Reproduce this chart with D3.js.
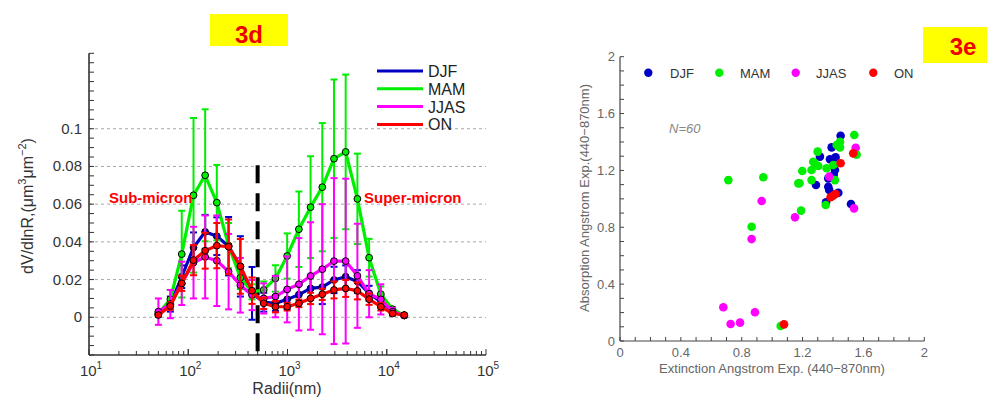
<!DOCTYPE html>
<html><head><meta charset="utf-8">
<script src="https://cdn.jsdelivr.net/npm/d3@7"></script>
<style>body{margin:0;background:#fff;} svg{display:block;font-family:"Liberation Sans",Arial,sans-serif;}</style>
</head><body><svg id="c" width="987" height="397"></svg>
<script>
// ---------- Panel 3d data ----------
const radii = [50,66,86,113,148,194,255,335,439,576,756,992,1302,1708,2241,2940,3857,5061,6641,8713,11432,15000];
const seasons = ["DJF","MAM","JJAS","ON"];
const djf    = [0.0015,0.007,0.0215,0.037,0.0453,0.043,0.0377,0.027,0.0127,0.008,0.0074,0.0095,0.012,0.0153,0.016,0.0198,0.0215,0.019,0.0127,0.0083,0.003,0.001];
const djfErr = [0.001,0.004,0.006,0.008,0.009,0.010,0.0155,0.016,0.014,0.005,0.004,0.005,0.005,0.006,0.009,0.007,0.006,0.006,0.004,0.003,0.001,0.0005];
const mam    = [0.002,0.0095,0.0335,0.0647,0.0753,0.0608,0.038,0.021,0.0135,0.0145,0.0206,0.0325,0.0467,0.0584,0.069,0.0841,0.0877,0.0628,0.0316,0.0123,0.0043,0.001];
const mamErr = [0.001,0.005,0.023,0.041,0.035,0.020,0.012,0.006,0.004,0.0045,0.007,0.012,0.020,0.027,0.034,0.042,0.041,0.024,0.010,0.004,0.001,0.0005];
const jjas    = [0.003,0.007,0.018,0.029,0.032,0.030,0.0242,0.017,0.0118,0.010,0.011,0.0148,0.0175,0.0219,0.0255,0.0298,0.0298,0.022,0.0125,0.0095,0.003,0.001];
const jjasErr = [0.007,0.0075,0.0115,0.019,0.022,0.024,0.020,0.0145,0.008,0.008,0.011,0.0175,0.0245,0.0285,0.0345,0.044,0.0437,0.0276,0.0125,0.008,0.002,0.001];
const on    = [0.0012,0.006,0.018,0.0303,0.0353,0.038,0.0374,0.027,0.0141,0.0074,0.0056,0.0056,0.0074,0.010,0.0122,0.0145,0.0153,0.014,0.0096,0.0056,0.002,0.0012];
const onErr = [0.0005,0.002,0.004,0.008,0.0095,0.012,0.0145,0.0145,0.007,0.003,0.003,0.002,0.002,0.003,0.003,0.0045,0.0045,0.0045,0.003,0.002,0.001,0.0005];
const yTicks3d = [0,0.02,0.04,0.06,0.08,0.1];
const xExps = [1,2,3,4,5];
const cutRadius = 500;

// ---------- Panel 3e data ----------
const djfExt = [1.450,1.391,1.314,1.380,1.417,1.413,1.369,1.288,1.369,1.375,1.435,1.354,1.518,1.405];
const djfAbs = [1.444,1.362,1.297,1.278,1.292,1.203,1.144,1.097,1.085,1.062,1.043,0.976,0.964,1.17];
const mamExt = [1.540,1.446,1.424,1.446,1.299,1.555,1.270,1.303,1.259,1.358,1.402,1.198,1.259,1.413,1.172,0.942,1.190,1.352,0.865,0.712,1.056,1.28,1.18];
const mamAbs = [1.449,1.402,1.379,1.362,1.332,1.311,1.261,1.231,1.203,1.215,1.238,1.196,1.132,1.132,1.109,1.152,0.917,0.957,0.804,1.132,0.106,1.25,1.11];
const jjasExt = [1.549,1.375,0.931,1.150,1.538,0.865,0.679,0.727,0.789,0.887];
const jjasAbs = [1.360,1.156,0.985,0.870,0.933,0.717,0.237,0.120,0.129,0.202];
const onExt = [1.533,1.450,1.384,1.417,1.400,1.078];
const onAbs = [1.320,1.250,1.011,1.034,1.022,0.117];
const sTicks = [0,0.4,0.8,1.2,1.6,2];

const colors = {DJF:"#0000c4", MAM:"#00ee00", JJAS:"#ff00ff", ON:"#ff0000"};

const svg = d3.select("#c");

// =============== Panel 3d ===============
const x = d3.scaleLog().domain([10,1e5]).range([89,486]);
const y = d3.scaleLinear().domain([-0.02,0.14]).range([355,53.3]);
const g = svg.append("g");

g.selectAll("line.grid").data(yTicks3d).join("line")
  .attr("x1",x(10)).attr("x2",x(1e5)).attr("y1",d=>y(d)).attr("y2",d=>y(d))
  .attr("stroke","#a8a8a8").attr("stroke-width",1).attr("stroke-dasharray","3,3");

const axisCol = "#333";
g.append("line").attr("x1",x(10)).attr("x2",x(10)).attr("y1",y(-0.02)).attr("y2",y(0.14)).attr("stroke",axisCol).attr("stroke-width",1.6);
g.append("line").attr("x1",x(10)).attr("x2",x(1e5)).attr("y1",y(-0.02)).attr("y2",y(-0.02)).attr("stroke",axisCol).attr("stroke-width",1.6);
const yMinor = d3.range(-0.02,0.1401,0.005);
g.selectAll("line.ym").data(yMinor).join("line")
  .attr("x1",x(10)).attr("x2",x(10)+5).attr("y1",d=>y(d)).attr("y2",d=>y(d)).attr("stroke",axisCol).attr("stroke-width",1);
const xMinor = [];
for (let e=1;e<5;e++) for (let k=1;k<=10;k++) xMinor.push(k*Math.pow(10,e));
g.selectAll("line.xm").data(xMinor).join("line")
  .attr("x1",d=>x(d)).attr("x2",d=>x(d)).attr("y1",y(-0.02)).attr("y2",d=>y(-0.02)-(Math.log10(d)%1===0?6:4)).attr("stroke",axisCol).attr("stroke-width",1);
g.selectAll("text.yl").data(yTicks3d).join("text")
  .attr("x",x(10)-7).attr("y",d=>y(d)+5).attr("text-anchor","end")
  .attr("font-size",15).attr("fill","#333").text(d=>d===0?"0":String(d));
xExps.forEach(e=>{
  const t = g.append("text").attr("x",x(Math.pow(10,e))+2).attr("y",376).attr("text-anchor","middle").attr("font-size",15).attr("fill","#333");
  t.append("tspan").text("10");
  t.append("tspan").attr("dy",-7).attr("font-size",10).text(e);
});
g.append("text").attr("x",287).attr("y",393.5).attr("text-anchor","middle").attr("font-size",16).attr("fill","#333").text("Radii(nm)");
const yl = g.append("text").attr("transform","translate(33,206) rotate(-90)").attr("text-anchor","middle").attr("font-size",16).attr("fill","#333");
yl.append("tspan").text("dV/dlnR,(\u03bcm");
yl.append("tspan").attr("dy",-7).attr("font-size",11).text("3");
yl.append("tspan").attr("dy",7).text("\u03bcm");
yl.append("tspan").attr("dy",-7).attr("font-size",11).text("\u22122");
yl.append("tspan").attr("dy",7).text(")");

g.append("line").attr("x1",x(cutRadius)).attr("x2",x(cutRadius)).attr("y1",y(0.0806)).attr("y2",y(-0.0228))
  .attr("stroke","#000").attr("stroke-width",4).attr("stroke-dasharray","18,10");

const series = [
  {name:"DJF", v:djf, e:djfErr},
  {name:"MAM", v:mam, e:mamErr},
  {name:"JJAS", v:jjas, e:jjasErr},
  {name:"ON", v:on, e:onErr}
];
const line = d3.line().x((d,i)=>x(radii[i])).y(d=>y(d));
series.forEach(s=>{
  const c = colors[s.name];
  const sg = g.append("g");
  const pts = s.v.map((v,i)=>({r:radii[i],v:v,e:s.e[i]}));
  sg.selectAll("line.eb").data(pts).join("line")
    .attr("x1",d=>x(d.r)).attr("x2",d=>x(d.r)).attr("y1",d=>y(d.v-d.e)).attr("y2",d=>y(d.v+d.e))
    .attr("stroke",c).attr("stroke-width",2);
  [-1,1].forEach(sgn=>{
    sg.selectAll("line.cap"+sgn).data(pts).join("line")
      .attr("x1",d=>x(d.r)-3.5).attr("x2",d=>x(d.r)+3.5)
      .attr("y1",d=>y(d.v+sgn*d.e)).attr("y2",d=>y(d.v+sgn*d.e))
      .attr("stroke",c).attr("stroke-width",2);
  });
  sg.append("path").datum(s.v).attr("d",line).attr("fill","none").attr("stroke",c).attr("stroke-width",3.2).attr("stroke-linejoin","round");
  sg.selectAll("circle").data(pts).join("circle")
    .attr("cx",d=>x(d.r)).attr("cy",d=>y(d.v)).attr("r",3.4)
    .attr("fill",c).attr("stroke","#000").attr("stroke-width",1);
});

seasons.forEach((s,i)=>{
  const yy = 71 + i*17.8;
  g.append("line").attr("x1",377).attr("x2",423).attr("y1",yy).attr("y2",yy).attr("stroke",colors[s]).attr("stroke-width",3);
  g.append("text").attr("x",428).attr("y",yy+6).attr("font-size",16).attr("fill","#222").text(s);
});

g.append("text").attr("x",109).attr("y",203).attr("font-size",15).attr("font-weight","bold").attr("fill","#ff0000").text("Sub-micron");
g.append("text").attr("x",364).attr("y",203).attr("font-size",15).attr("font-weight","bold").attr("fill","#ff0000").text("Super-micron");

g.append("rect").attr("x",210).attr("y",14).attr("width",78).attr("height",32).attr("fill","#ffff00");
g.append("text").attr("x",249).attr("y",43).attr("text-anchor","middle").attr("font-size",24).attr("font-weight","bold").attr("fill","#ee0000").text("3d");

// =============== Panel 3e ===============
const sx = d3.scaleLinear().domain([0,2]).range([620,924.3]);
const sy = d3.scaleLinear().domain([0,2]).range([341,56.7]);
const h = svg.append("g");
const sCol = "#444";
h.append("line").attr("x1",sx(0)).attr("x2",sx(0)).attr("y1",sy(0)).attr("y2",sy(2)).attr("stroke",sCol).attr("stroke-width",1.2);
h.append("line").attr("x1",sx(0)).attr("x2",sx(2)).attr("y1",sy(0)).attr("y2",sy(0)).attr("stroke",sCol).attr("stroke-width",1.2);
const sMinor = d3.range(0,2.001,0.1);
h.selectAll("line.sxm").data(sMinor).join("line")
  .attr("x1",d=>sx(d)).attr("x2",d=>sx(d)).attr("y1",sy(0)).attr("y2",sy(0)-4).attr("stroke",sCol).attr("stroke-width",1);
h.selectAll("line.sym").data(sMinor).join("line")
  .attr("x1",sx(0)).attr("x2",sx(0)+4).attr("y1",d=>sy(d)).attr("y2",d=>sy(d)).attr("stroke",sCol).attr("stroke-width",1);
h.selectAll("text.sxl").data(sTicks).join("text")
  .attr("x",d=>sx(d)).attr("y",357).attr("text-anchor","middle").attr("font-size",13).attr("fill","#666").text(d=>String(d));
h.selectAll("text.syl").data(sTicks).join("text")
  .attr("x",615).attr("y",d=>sy(d)+4.5).attr("text-anchor","end").attr("font-size",13).attr("fill","#666").text(d=>String(d));
h.append("text").attr("x",772).attr("y",373).attr("text-anchor","middle").attr("font-size",13).attr("fill","#666")
  .text("Extinction Angstrom Exp. (440\u2212870nm)");
h.append("text").attr("transform","translate(589,198) rotate(-90)").attr("text-anchor","middle").attr("font-size",13).attr("fill","#666")
  .text("Absorption Angstrom Exp.(440\u2212870nm)");
h.append("text").attr("x",669).attr("y",133).attr("font-size",13).attr("font-style","italic").attr("fill","#888").text("N=60");

const sSeries = [
  {name:"DJF", xs:djfExt, ys:djfAbs},
  {name:"MAM", xs:mamExt, ys:mamAbs},
  {name:"JJAS", xs:jjasExt, ys:jjasAbs},
  {name:"ON", xs:onExt, ys:onAbs}
];
sSeries.forEach(s=>{
  h.append("g").selectAll("circle").data(s.xs.map((v,i)=>[v,s.ys[i]])).join("circle")
    .attr("cx",d=>sx(d[0])).attr("cy",d=>sy(d[1])).attr("r",4.3).attr("fill",colors[s.name]);
});
const legX = [648.3,719.3,795.7,873.3];
const legTX = [670,740,816,894];
seasons.forEach((s,i)=>{
  h.append("circle").attr("cx",legX[i]).attr("cy",72.7).attr("r",4.2).attr("fill",colors[s]);
  h.append("text").attr("x",legTX[i]).attr("y",77.5).attr("font-size",13).attr("fill","#333").text(s);
});
h.append("rect").attr("x",923).attr("y",27).attr("width",64).attr("height",36).attr("fill","#ffff00");
h.append("text").attr("x",963).attr("y",55).attr("text-anchor","middle").attr("font-size",24).attr("font-weight","bold").attr("fill","#ee0000").text("3e");
</script></body></html>
